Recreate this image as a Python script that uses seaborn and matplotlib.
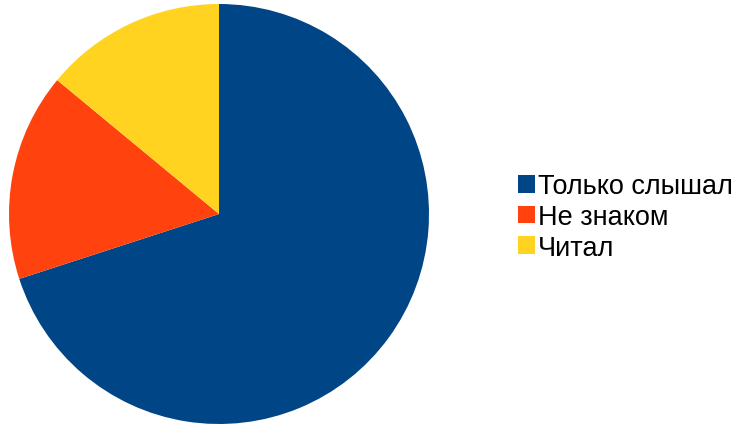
import matplotlib
matplotlib.use("Agg")
import matplotlib.pyplot as plt
import matplotlib.patches as patches
import seaborn as sns

# DATA ===========================================================================================================

labels = ["Только слышал", "Не знаком", "Читал"]
shares = [70, 16, 14]
colors = ["#004586", "#ff420e", "#ffd320"]

# PLOT ===========================================================================================================

sns.set_theme(style="white")
plt.rcParams["font.family"] = ["Liberation Sans", "DejaVu Sans"]
palette = sns.color_palette(colors)

fig = plt.figure(figsize=(7.38, 4.27), dpi=100)
ax = fig.add_axes([9 / 738, 2 / 427, 420 / 738, 420 / 427])

ax.pie(shares, colors=palette, startangle=90, counterclock=False, radius=1,
       wedgeprops={"linewidth": 0})
ax.set_xlim(-1, 1)
ax.set_ylim(-1, 1)
ax.set_aspect("equal")
ax.axis("off")

handles = [patches.Patch(facecolor=c, edgecolor="none") for c in palette]
fig.legend(handles, labels, loc="center left", bbox_to_anchor=(518 / 738, 1 - 218 / 427),
           frameon=False, fontsize=19.5, handlelength=0.62, handleheight=0.62,
           handletextpad=0.12, labelspacing=0.17, borderpad=0, borderaxespad=0,
           labelcolor="black")

plt.savefig("out.png", dpi=100)
